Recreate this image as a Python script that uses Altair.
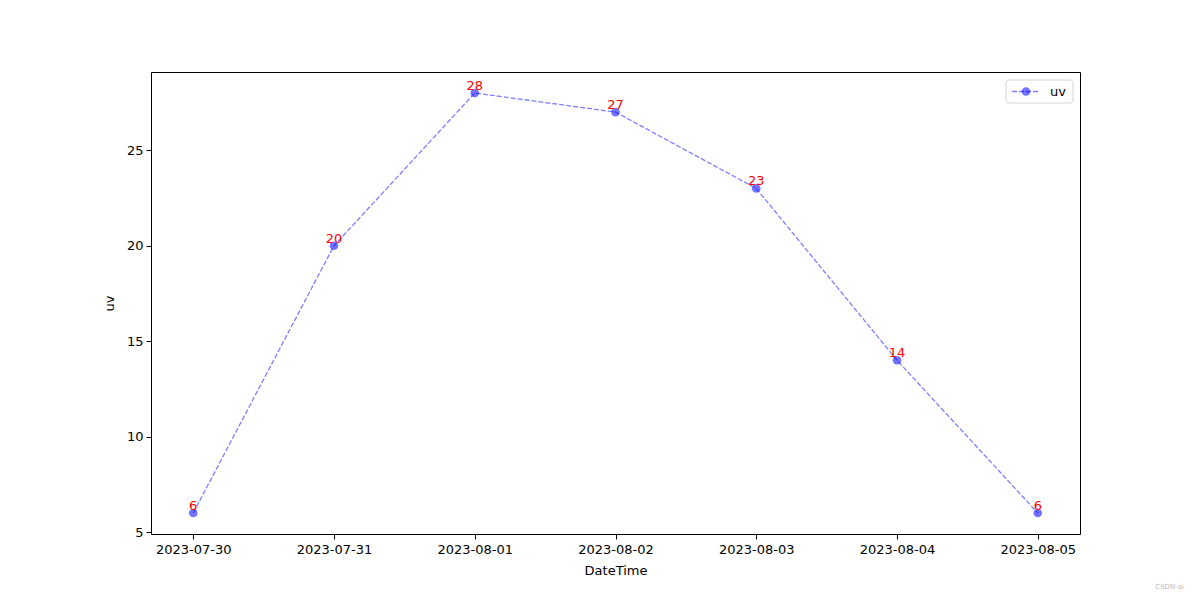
import altair as alt
import pandas as pd

dates = ["2023-07-30", "2023-07-31", "2023-08-01", "2023-08-02",
         "2023-08-03", "2023-08-04", "2023-08-05"]
uv = [6, 20, 28, 27, 23, 14, 6]
series_name = "uv"

df = pd.DataFrame({"DateTime": dates, "uv": uv})

W, H = 929, 462
FONT = "DejaVu Sans"
BLUE = "#0000ff"

x = alt.X(
    "DateTime:T",
    title="DateTime",
    scale=alt.Scale(
        type="utc",
        domain=[
            alt.DateTime(year=2023, month=7, date=29, hours=16, minutes=48, utc=True),
            alt.DateTime(year=2023, month=8, date=5, hours=7, minutes=12, utc=True),
        ],
    ),
    axis=alt.Axis(
        values=[alt.DateTime(year=int(d[:4]), month=int(d[5:7]), date=int(d[8:]), utc=True) for d in dates],
        labelExpr="utcFormat(datum.value, '%Y-%m-%d')",
        grid=False,
        labelAngle=0,
    ),
)
y = alt.Y(
    "uv:Q",
    title="uv",
    scale=alt.Scale(domain=[4.9, 29.1], nice=False, zero=False),
    axis=alt.Axis(values=[5, 10, 15, 20, 25], grid=False),
)

base = alt.Chart(df).encode(x=x, y=y)

line = base.mark_line(
    color=BLUE, opacity=0.5, strokeWidth=1.3, strokeDash=[5, 2]
)
pts = base.mark_point(
    filled=True, shape="circle", size=75, color=BLUE, opacity=0.55
)
labels = base.mark_text(
    color="red", fontSize=13, font=FONT, baseline="alphabetic", dy=-3
).encode(text="uv:Q")

# legend
leg_df = pd.DataFrame({"name": [series_name]})
leg_box = alt.Chart(leg_df).mark_rect(
    fill="white", stroke="#cccccc", strokeWidth=1, cornerRadius=3, opacity=0.8
).encode(x=alt.value(855), x2=alt.value(922), y=alt.value(8), y2=alt.value(31))
leg_line = alt.Chart(leg_df).mark_rule(
    color=BLUE, opacity=0.5, strokeWidth=1.3, strokeDash=[5, 2]
).encode(x=alt.value(861), x2=alt.value(888), y=alt.value(19.5))
leg_pt = alt.Chart(leg_df).mark_point(
    filled=True, shape="circle", size=75, color=BLUE, opacity=0.55
).encode(x=alt.value(875), y=alt.value(19.5))
leg_txt = alt.Chart(leg_df).mark_text(
    align="left", baseline="middle", fontSize=13, font=FONT, color="black"
).encode(x=alt.value(899), y=alt.value(19.5), text="name:N")

wm = alt.Chart(pd.DataFrame({"t": ["CSDN-ai"]})).mark_text(
    align="right", baseline="middle", fontSize=7, font=FONT, color="#bbbbbb"
).encode(x=alt.value(1033), y=alt.value(515), text="t:N")

chart = alt.layer(
    line, pts, labels, leg_box, leg_line, leg_pt, leg_txt, wm
).properties(
    width=W, height=H,
    autosize=alt.AutoSizeParams(type="none"),
    padding={"left": 143, "top": 64, "right": 110, "bottom": 58},
).configure_view(
    stroke="black", strokeWidth=1
).configure_axis(
    labelFont=FONT, titleFont=FONT, labelFontSize=13, titleFontSize=13,
    labelColor="black", titleColor="black", titleFontWeight="normal",
    domain=False, tickColor="black", tickSize=5, labelPadding=3,
).configure_axisX(
    titlePadding=8, labelPadding=4,
).configure_axisY(
    titlePadding=10,
)

chart.save("out.html", embed_options={"renderer": "svg", "actions": False})
